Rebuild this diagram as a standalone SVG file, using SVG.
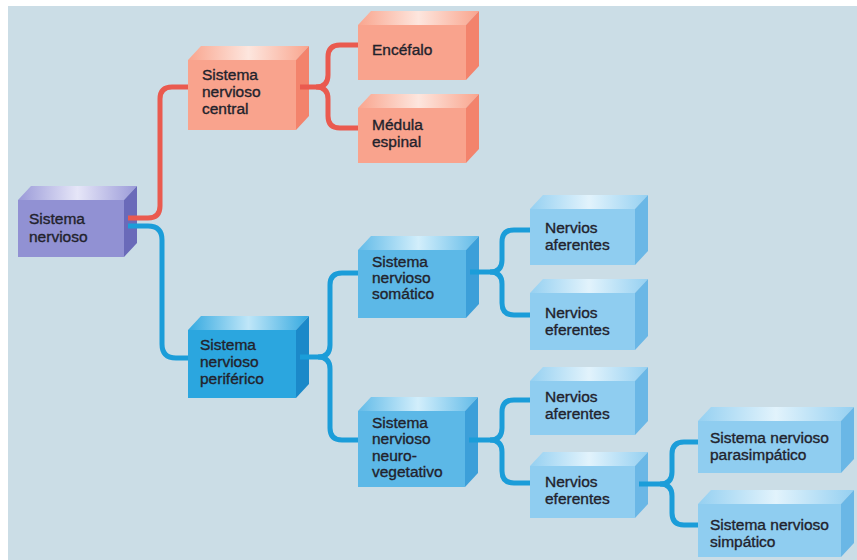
<svg xmlns="http://www.w3.org/2000/svg" width="857" height="560" viewBox="0 0 857 560">
<defs>
<linearGradient id="tP" x1="0" y1="0" x2="1" y2="0"><stop offset="0" stop-color="#9a9ad8"/><stop offset="0.5" stop-color="#e6e6f8"/><stop offset="1" stop-color="#9a9ad8"/></linearGradient>
<linearGradient id="tS" x1="0" y1="0" x2="1" y2="0"><stop offset="0" stop-color="#f9a58e"/><stop offset="0.5" stop-color="#fde6de"/><stop offset="1" stop-color="#f9a58e"/></linearGradient>
<linearGradient id="tB" x1="0" y1="0" x2="1" y2="0"><stop offset="0" stop-color="#34a9e0"/><stop offset="0.5" stop-color="#bfe6f8"/><stop offset="1" stop-color="#34a9e0"/></linearGradient>
<linearGradient id="tM" x1="0" y1="0" x2="1" y2="0"><stop offset="0" stop-color="#62bbe8"/><stop offset="0.5" stop-color="#d2eefb"/><stop offset="1" stop-color="#62bbe8"/></linearGradient>
<linearGradient id="tL" x1="0" y1="0" x2="1" y2="0"><stop offset="0" stop-color="#95d0f1"/><stop offset="0.5" stop-color="#e2f3fc"/><stop offset="1" stop-color="#95d0f1"/></linearGradient>
</defs>
<style>
text{font-family:"Liberation Sans",Arial,sans-serif;font-size:15.5px;fill:#22222c;stroke:#22222c;stroke-width:0.35px}
.c{fill:none;stroke-width:5;stroke-linecap:butt}
.r{stroke:#ea5a4f}
.b{stroke:#1b9dd9}
.P .f{fill:#9191d3}.P .t{fill:url(#tP)}.P .s{fill:#6a6ab9}
.S .f{fill:#f9a38d}.S .t{fill:url(#tS)}.S .s{fill:#f3836c}
.B .f{fill:#2ba6df}.B .t{fill:url(#tB)}.B .s{fill:#1b89c9}
.M .f{fill:#5cb8e7}.M .t{fill:url(#tM)}.M .s{fill:#3c9fd9}
.L .f{fill:#8fcdf0}.L .t{fill:url(#tL)}.L .s{fill:#6ab7e6}
</style>
<rect x="8" y="6" width="849" height="554" fill="#cbdde6"/>

<g id="nodes">
<g id="sistema-nervioso" class="P">
<rect class="f" x="18" y="200" width="106" height="57"/>
<polygon class="t" points="18,200 31,186 137,186 124,200"/>
<polygon class="s" points="124,200 137,186 137,243 124,257"/>
<text x="29" y="224">Sistema</text><text x="29" y="242">nervioso</text>
</g>
<g id="snc" class="S">
<rect class="f" x="188" y="60" width="108" height="70"/>
<polygon class="t" points="188,60 201,46 309,46 296,60"/>
<polygon class="s" points="296,60 309,46 309,116 296,130"/>
<text x="202" y="80">Sistema</text><text x="202" y="97">nervioso</text><text x="202" y="114">central</text>
</g>
<g id="encefalo" class="S">
<rect class="f" x="358" y="25" width="108" height="55"/>
<polygon class="t" points="358,25 371,11 479,11 466,25"/>
<polygon class="s" points="466,25 479,11 479,66 466,80"/>
<text x="372" y="55">Encéfalo</text>
</g>
<g id="medula" class="S">
<rect class="f" x="358" y="108" width="108" height="55"/>
<polygon class="t" points="358,108 371,94 479,94 466,108"/>
<polygon class="s" points="466,108 479,94 479,149 466,163"/>
<text x="372" y="130">Médula</text><text x="372" y="147">espinal</text>
</g>
<g id="snp" class="B">
<rect class="f" x="188" y="330" width="108" height="68"/>
<polygon class="t" points="188,330 201,316 309,316 296,330"/>
<polygon class="s" points="296,330 309,316 309,384 296,398"/>
<text x="200" y="350">Sistema</text><text x="200" y="367">nervioso</text><text x="200" y="384">periférico</text>
</g>
<g id="somatico" class="M">
<rect class="f" x="358" y="250" width="108" height="68"/>
<polygon class="t" points="358,250 371,236 479,236 466,250"/>
<polygon class="s" points="466,250 479,236 479,304 466,318"/>
<text x="372" y="267">Sistema</text><text x="372" y="283">nervioso</text><text x="372" y="299">somático</text>
</g>
<g id="aferentes-1" class="L">
<rect class="f" x="530" y="209" width="105" height="56"/>
<polygon class="t" points="530,209 543,195 648,195 635,209"/>
<polygon class="s" points="635,209 648,195 648,251 635,265"/>
<text x="545" y="233">Nervios</text><text x="545" y="250">aferentes</text>
</g>
<g id="eferentes-1" class="L">
<rect class="f" x="530" y="293" width="105" height="57"/>
<polygon class="t" points="530,293 543,279 648,279 635,293"/>
<polygon class="s" points="635,293 648,279 648,336 635,350"/>
<text x="545" y="318">Nervios</text><text x="545" y="335">eferentes</text>
</g>
<g id="neurovegetativo" class="M">
<rect class="f" x="358" y="411" width="107" height="76"/>
<polygon class="t" points="358,411 371,397 478,397 465,411"/>
<polygon class="s" points="465,411 478,397 478,473 465,487"/>
<text x="372" y="428">Sistema</text><text x="372" y="444">nervioso</text><text x="372" y="461">neuro-</text><text x="372" y="477">vegetativo</text>
</g>
<g id="aferentes-2" class="L">
<rect class="f" x="530" y="381" width="105" height="54"/>
<polygon class="t" points="530,381 543,367 648,367 635,381"/>
<polygon class="s" points="635,381 648,367 648,421 635,435"/>
<text x="545" y="402">Nervios</text><text x="545" y="419">aferentes</text>
</g>
<g id="eferentes-2" class="L">
<rect class="f" x="530" y="466" width="105" height="52"/>
<polygon class="t" points="530,466 543,452 648,452 635,466"/>
<polygon class="s" points="635,466 648,452 648,504 635,518"/>
<text x="545" y="487">Nervios</text><text x="545" y="504">eferentes</text>
</g>
<g id="parasimpatico" class="L">
<rect class="f" x="698" y="421" width="143" height="52"/>
<polygon class="t" points="698,421 711,407 854,407 841,421"/>
<polygon class="s" points="841,421 854,407 854,459 841,473"/>
<text x="710" y="443">Sistema nervioso</text><text x="710" y="460">parasimpático</text>
</g>
<g id="simpatico" class="L">
<rect class="f" x="698" y="504" width="143" height="53"/>
<polygon class="t" points="698,504 711,490 854,490 841,504"/>
<polygon class="s" points="841,504 854,490 854,543 841,557"/>
<text x="710" y="530">Sistema nervioso</text><text x="710" y="547">simpático</text>
</g>
</g>

<g id="connectors">
<path class="c r" d="M128,218 H148 Q160,218 160,206 V99 Q160,87 172,87 H188"/>
<path class="c b" d="M128,226 H148 Q162,226 162,240 V344 Q162,358 176,358 H188"/>
<path class="c r" d="M300,87 H316 Q328,87 328,75 V57 Q328,45 340,45 H358"/>
<path class="c r" d="M316,87 Q328,87 328,99 V116 Q328,128 340,128 H358"/>
<path class="c b" d="M300,357 H318 Q330,357 330,345 V285 Q330,273 342,273 H358"/>
<path class="c b" d="M318,357 Q330,357 330,369 V428 Q330,440 342,440 H358"/>
<path class="c b" d="M470,272 H490 Q502,272 502,260 V242 Q502,230 514,230 H530"/>
<path class="c b" d="M490,272 Q502,272 502,284 V303 Q502,315 514,315 H530"/>
<path class="c b" d="M469,440 H490 Q502,440 502,428 V412 Q502,400 514,400 H530"/>
<path class="c b" d="M490,440 Q502,440 502,452 V471 Q502,483 514,483 H530"/>
<path class="c b" d="M639,484 H660 Q672,484 672,472 V454 Q672,442 684,442 H698"/>
<path class="c b" d="M660,484 Q672,484 672,496 V513 Q672,525 684,525 H698"/>
</g>
</svg>
